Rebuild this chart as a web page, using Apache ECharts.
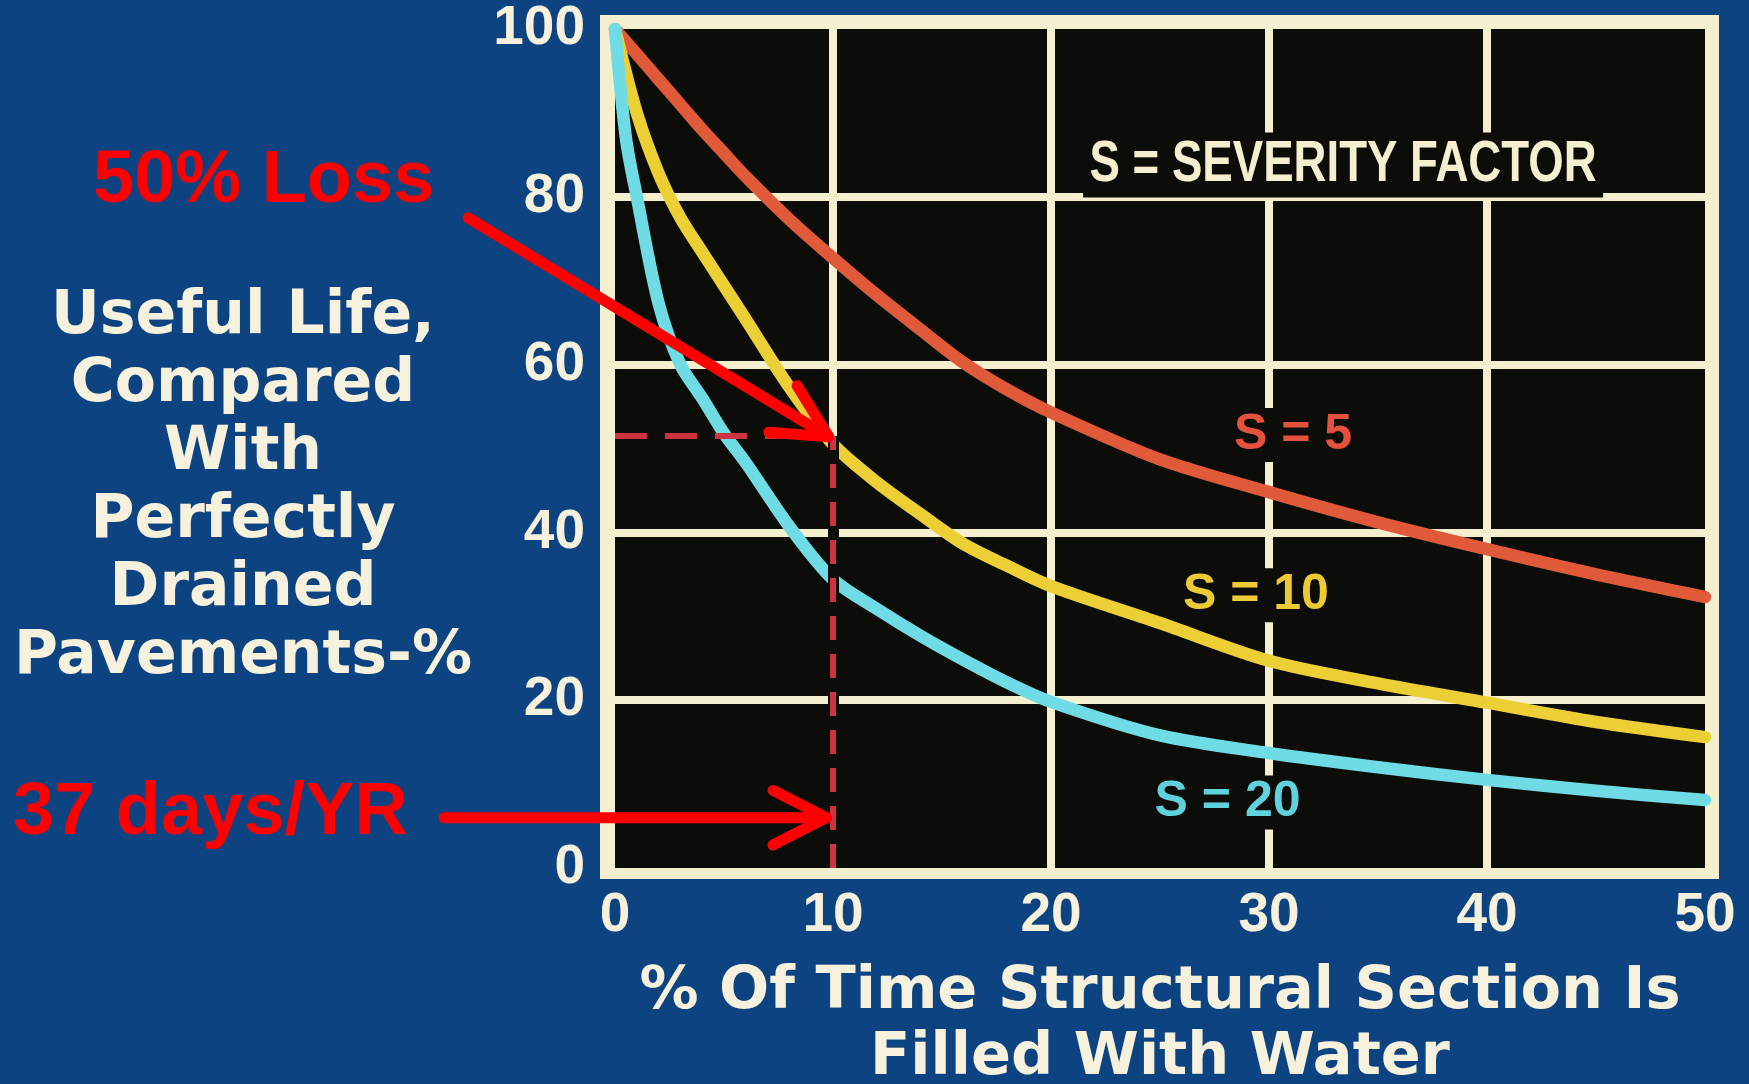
<!DOCTYPE html>
<html>
<head>
<meta charset="utf-8">
<script src="https://cdn.jsdelivr.net/npm/echarts/dist/echarts.min.js"></script>
<style>
html,body{margin:0;padding:0;background:#0d4381;}
#c{width:1749px;height:1084px;}
</style>
</head>
<body>
<div id="c"></div>
<script>
// ---- data ----
const xTicks = [0, 10, 20, 30, 40, 50];
const yTicks = [0, 20, 40, 60, 80, 100];

const s5X  = [0, 1, 2, 3, 4, 5, 6, 8, 10, 12, 14, 16, 18, 20, 25, 30, 35, 40, 45, 50];
const s5Y  = [100, 97, 94, 91, 88, 85.2, 82.4, 77.3, 72.7, 68.3, 64.2, 60.2, 57, 54.3, 48.7, 44.8, 41.2, 38, 35, 32.3];
const s10X = [0, 1, 2, 3, 4, 5, 6, 8, 10, 12, 14, 16, 18, 20, 25, 30, 35, 40, 45, 50];
const s10Y = [100, 90, 82.8, 77.5, 73.4, 69.4, 65.4, 57.3, 50.5, 46, 42.2, 38.6, 36, 33.6, 29.2, 24.7, 22, 19.7, 17.4, 15.6];
const s20X = [0, 0.5, 1, 2, 3, 4, 5, 6, 8, 10, 12, 14, 16, 18, 20, 25, 30, 35, 40, 45, 50];
const s20Y = [100, 87, 80, 67.3, 60, 56, 51.8, 48.3, 40.7, 34.4, 30.9, 27.7, 24.8, 22.1, 19.8, 15.8, 13.7, 12, 10.5, 9.2, 8.1];

const seriesNames = ['S = 5', 'S = 10', 'S = 20'];
const seriesLabelAt = [[31.1, 51.6], [29.4, 32.5], [28.1, 7.8]];
const keyText = 'S = SEVERITY FACTOR';
const keyAt = [33.4, 83.8];

const xTitle = '% Of Time Structural Section Is\nFilled With Water';
const yTitle = 'Useful Life,\nCompared\nWith\nPerfectly\nDrained\nPavements-%';

// annotation (overlaid red marks)
const lossX = 10;
const lossY = 51.5;
const lossText = '50% Loss';
const daysText = '37 days/YR';
const arrow1From = [-6.74, 77.5], arrow1To = [9.8, 51.4];
const arrow2From = [-7.84, 6.0], arrow2To = [9.7, 6.0];

// ---- style ----
const CREAM = '#f4efcf';
const BLACK = '#0c0d09';
const TXT = '#f5f1dd';
const lineColors = ['#e05a3a', '#ebcf34', '#6fdbe4'];
const labelColors = ['#e4523e', '#ebca35', '#5fd2de'];
const G = {left: 615, top: 29, right: 44, bottom: 216};

const zip = (xs, ys) => xs.map((x, i) => [x, ys[i]]);
const seriesData = [zip(s5X, s5Y), zip(s10X, s10Y), zip(s20X, s20Y)];

const chart = echarts.init(document.getElementById('c'), null, {renderer: 'canvas'});

const option = {
  animation: false,
  backgroundColor: '#0d4381',
  grid: {
    left: G.left, top: G.top, right: G.right, bottom: G.bottom,
    show: true, backgroundColor: BLACK, borderWidth: 0,
    containLabel: false, outerBoundsMode: 'none'
  },
  xAxis: {
    type: 'value', min: 0, max: 50, interval: 10,
    axisLine: {show: false}, axisTick: {show: false},
    splitLine: {show: true, showMinLine: false, showMaxLine: false, lineStyle: {color: CREAM, width: 8}},
    axisLabel: {
      color: TXT, fontFamily: 'Liberation Sans', fontWeight: 'bold', fontSize: 55, margin: 20,
      formatter: v => xTicks.includes(v) ? String(v) : ''
    },
    name: xTitle, nameLocation: 'middle', nameGap: 92,
    nameTextStyle: {color: TXT, fontFamily: 'DejaVu Sans', fontWeight: 'bold', fontSize: 59, lineHeight: 66}
  },
  yAxis: {
    type: 'value', min: 0, max: 100, interval: 20,
    axisLine: {show: false}, axisTick: {show: false},
    splitLine: {show: true, showMinLine: false, showMaxLine: false, lineStyle: {color: CREAM, width: 8}},
    axisLabel: {
      color: TXT, fontFamily: 'Liberation Sans', fontWeight: 'bold', fontSize: 55, margin: 30,
      formatter: v => yTicks.includes(v) ? String(v) : ''
    }
  },
  series: [
    {
      type: 'line', name: 'annot', data: [], z: 1, silent: true,
      markLine: {
        silent: true, symbol: 'none', label: {show: false}, animation: false,
        emphasis: {disabled: true},
        data: [
          [{coord: [lossX, 0], lineStyle: {color: BLACK, width: 11, type: 'solid'}}, {coord: [lossX, lossY]}],
          [{coord: [lossX, 0], lineStyle: {color: '#cf3340', width: 6, type: [24, 14]}}, {coord: [lossX, lossY]}],
          [{coord: [0, lossY], lineStyle: {color: '#cf3340', width: 6, type: [32, 18]}}, {coord: [lossX, lossY]}]
        ]
      }
    }
  ].concat(seriesData.map((d, i) => ({
    type: 'line', name: seriesNames[i], data: d, z: 3,
    smooth: 0.3, showSymbol: false, symbol: 'none',
    lineStyle: {color: lineColors[i], width: 12.5, cap: 'round', join: 'round'},
    emphasis: {disabled: true},
    markPoint: {
      symbol: 'rect', symbolSize: 1, itemStyle: {color: 'rgba(0,0,0,0)'},
      silent: true, animation: false,
      label: {
        show: true, position: 'inside', color: labelColors[i],
        fontFamily: 'Liberation Sans', fontWeight: 'bold', fontSize: 50,
        backgroundColor: BLACK, padding: [2, 4],
        formatter: p => p.name
      },
      data: [{name: seriesNames[i], coord: seriesLabelAt[i]}]
    }
  })))
};

chart.setOption(option);

function px(p) { return chart.convertToPixel({gridIndex: 0}, p); }
function arrow(from, to) {
  const a = px(from), b = px(to);
  const ang = Math.atan2(a[1] - b[1], a[0] - b[0]);
  const len = 60, half = 27 * Math.PI / 180;
  const p1 = [b[0] + len * Math.cos(ang + half), b[1] + len * Math.sin(ang + half)];
  const p2 = [b[0] + len * Math.cos(ang - half), b[1] + len * Math.sin(ang - half)];
  const st = {stroke: '#ff0000', lineWidth: 11, lineCap: 'round', lineJoin: 'round', fill: null};
  return [
    {type: 'line', z: 100, silent: true, shape: {x1: a[0], y1: a[1], x2: b[0], y2: b[1]}, style: st},
    {type: 'polyline', z: 100, silent: true, shape: {points: [p1, b, p2]}, style: st}
  ];
}

const W = 1749 - G.left - G.right, H = 1084 - G.top - G.bottom;
const keyPx = px(keyAt);
const elements = [
  {type: 'rect', z: -1, silent: true,
   shape: {x: G.left - 15, y: G.top - 14, width: W + 29, height: H + 25},
   style: {fill: CREAM}},
  {type: 'text', z: 10, silent: true, x: keyPx[0], y: keyPx[1], scaleX: 0.8,
   style: {text: keyText, fill: CREAM, fontFamily: 'Liberation Sans', fontWeight: 'bold', fontSize: 57,
           align: 'center', verticalAlign: 'middle', backgroundColor: BLACK, padding: [6, 8, 2, 8]}},
  {type: 'text', z: 10, silent: true, x: 243, y: 487,
   style: {text: yTitle, fill: TXT, fontFamily: 'DejaVu Sans', fontWeight: 'bold', fontSize: 60,
           lineHeight: 68, align: 'center', verticalAlign: 'middle'}},
  {type: 'text', z: 100, silent: true, x: 93, y: 182,
   style: {text: lossText, fill: '#ff0000', fontFamily: 'Liberation Sans', fontWeight: 'bold', fontSize: 74,
           align: 'left', verticalAlign: 'middle'}},
  {type: 'text', z: 100, silent: true, x: 13, y: 814,
   style: {text: daysText, fill: '#ff0000', fontFamily: 'Liberation Sans', fontWeight: 'bold', fontSize: 74,
           align: 'left', verticalAlign: 'middle'}}
].concat(arrow(arrow1From, arrow1To), arrow(arrow2From, arrow2To));

chart.setOption({graphic: {elements: elements}});
</script>
</body>
</html>
